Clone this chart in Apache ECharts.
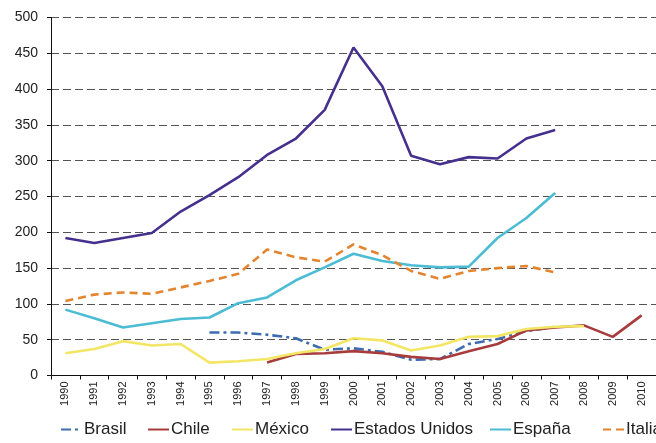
<!DOCTYPE html>
<html>
<head>
<meta charset="utf-8">
<script src="https://cdn.jsdelivr.net/npm/echarts@6/dist/echarts.min.js"></script>
<style>
  html, body { margin: 0; padding: 0; background: #fff; }
  #chart { width: 656px; height: 443px; }
</style>
</head>
<body>
<div id="chart"></div>
<script>
const years = ['1990','1991','1992','1993','1994','1995','1996','1997','1998','1999','2000',
               '2001','2002','2003','2004','2005','2006','2007','2008','2009','2010'];

const brasil = [null, null, null, null, null, 60, 60, 57, 52, 36, 38, 33, 22, 23, 44, 51, 62, 68, null, null, null];
const chile = [null, null, null, null, null, null, null, 18, 30, 31, 34, 31, 26, 23, 34, 44, 63, 67, 70, 54, 84];
const mexico = [31, 37, 48, 42, 44, 18, 20, 23, 31, 37, 52, 49, 35, 42, 54, 55, 65, 68, 69, null, null];
const estadosUnidos = [192, 185, 192, 199, 229, 252, 277, 308, 331, 371, 458, 404, 307, 295, 305, 303, 331, 343, null, null, null];
const espana = [92, 80, 67, 73, 79, 81, 101, 109, 133, 151, 170, 160, 154, 151, 152, 192, 220, 255, null, null, null];
const italia = [104, 113, 116, 114, 123, 132, 142, 176, 165, 159, 183, 168, 146, 135, 146, 150, 153, 144, null, null, null];

const yTicks = { min: 0, max: 500, interval: 50 };

const seriesDefs = [
  { name: 'Brasil', data: brasil, color: '#3d6cb0', type: [10, 4, 3, 4] },
  { name: 'Chile', data: chile, color: '#a83b3b', type: 'solid' },
  { name: 'México', data: mexico, color: '#f2e664', type: 'solid' },
  { name: 'Estados Unidos', data: estadosUnidos, color: '#46308e', type: 'solid' },
  { name: 'España', data: espana, color: '#4bbcd3', type: 'solid' },
  { name: 'Italia', data: italia, color: '#e4842f', type: [8, 5] }
];

const legendLeft = [60, 147, 231, 330, 489, 602];

const chart = echarts.init(document.getElementById('chart'), null, { renderer: 'canvas' });

chart.setOption({
  animation: false,
  backgroundColor: '#ffffff',
  grid: { left: 51, top: 17.5, width: 611, height: 358, containLabel: false },
  legend: seriesDefs.map((s, i) => ({
    data: [s.name],
    left: legendLeft[i],
    top: 421,
    itemWidth: 21,
    itemHeight: 10,
    itemGap: 0,
    padding: 0,
    itemStyle: { opacity: 0 },
    textStyle: { fontFamily: 'Liberation Sans, Arial, sans-serif', fontSize: 17, color: '#222', padding: [0, 0, 0, -3] }
  })),
  xAxis: {
    type: 'category',
    data: years,
    boundaryGap: true,
    axisLine: { lineStyle: { color: '#111', width: 1 } },
    axisTick: { show: true, interval: 0, length: 4, lineStyle: { color: '#111' } },
    axisLabel: {
      interval: 0,
      rotate: 90,
      margin: 6,
      fontFamily: 'Liberation Sans, Arial, sans-serif',
      fontSize: 11,
      color: '#222'
    },
    splitLine: { show: false }
  },
  yAxis: {
    type: 'value',
    min: yTicks.min,
    max: yTicks.max,
    interval: yTicks.interval,
    axisLine: { show: true, lineStyle: { color: '#111', width: 1 } },
    axisTick: { show: true, length: 4, lineStyle: { color: '#111' } },
    axisLabel: {
      margin: 13,
      fontFamily: 'Liberation Sans, Arial, sans-serif',
      fontSize: 14,
      color: '#222'
    },
    splitLine: { show: true, lineStyle: { color: '#555', width: 1, type: [8, 4] } }
  },
  series: seriesDefs.map(s => ({
    name: s.name,
    type: 'line',
    data: s.data,
    symbol: 'none',
    connectNulls: false,
    color: s.color,
    lineStyle: { color: s.color, width: 2.6, type: s.type, cap: 'butt' }
  }))
});
</script>
</body>
</html>
